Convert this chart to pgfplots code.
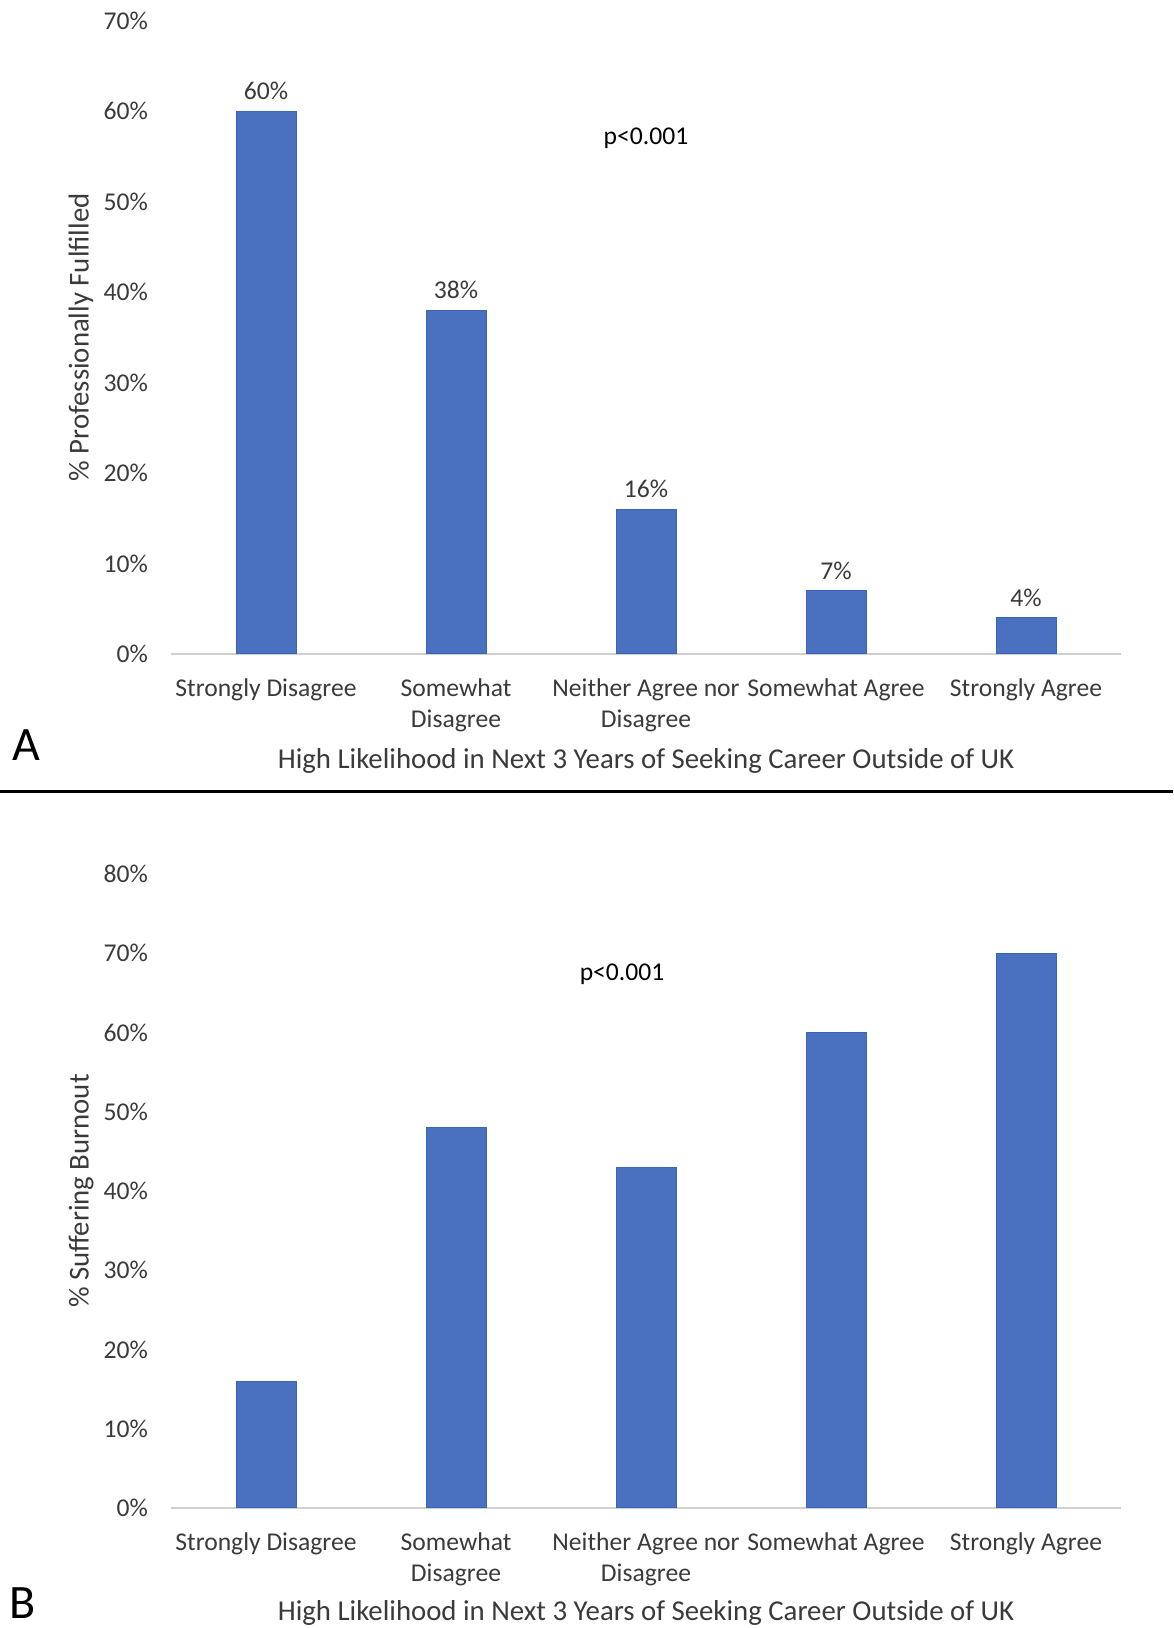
\documentclass[border=0pt]{standalone}
\usepackage{fontspec}
\setmainfont{Carlito}
\usepackage{pgfplots}
\pgfplotsset{compat=1.18}
\definecolor{barblue}{HTML}{4A71BF}
\definecolor{baredge}{HTML}{3B63B8}
\definecolor{txt}{HTML}{3A3A3A}
\definecolor{axgray}{HTML}{D0D0D0}
\pgfplotsset{
  panel/.style={
    scale only axis,
    width=475pt,
    xmin=-0.5, xmax=4.5,
    ymin=0,
    xtick={0,1,2,3,4},
    xticklabels={Strongly Disagree,{Somewhat\\Disagree},{Neither Agree nor\\Disagree},Somewhat Agree,Strongly Agree},
    separate axis lines,
    axis x line*=bottom,
    axis y line*=left,
    x axis line style={-,draw=axgray,line width=0.8pt},
    y axis line style={draw=none},
    major tick length=0pt,
    tick style={draw=none},
    /pgf/number format/assume math mode=true,
    yticklabel={\pgfmathprintnumber{\tick}\%},
    yticklabel style={font=\fontsize{12.8}{15.5}\selectfont, text=txt, anchor=east, xshift=-8pt},
    xticklabel style={font=\fontsize{12.8}{15.5}\selectfont, text=txt, align=center, anchor=north, yshift=-8.7pt},
    xlabel style={font=\fontsize{14.4}{17}\selectfont, text=txt, anchor=center},
    ylabel style={font=\fontsize{14.4}{17}\selectfont, text=txt, anchor=center, rotate=0},
    ybar, bar width=30pt,
  },
}
\begin{document}
\begin{tikzpicture}
\path[use as bounding box] (0,0) rectangle (586.5pt,814pt);
% Panel A
\begin{axis}[panel,
  at={(85.5pt,487pt)}, anchor=south west,
  height=316.6pt, ymax=70, ytick={0,10,...,70},
  xlabel={High Likelihood in Next 3 Years of Seeking Career Outside of UK},
  ylabel={\% Professionally Fulfilled},
  xlabel style={at={(axis description cs:0.5,-0.169)}},
  ylabel style={at={(axis description cs:-0.0947,0.5)}},
  nodes near coords={\pgfmathprintnumber{\pgfplotspointmeta}\%},
  every node near coord/.style={anchor=center, yshift=10pt, font=\fontsize{12.8}{15.5}\selectfont, text=txt},
]
\addplot[fill=barblue, draw=baredge, line width=0.5pt] coordinates {(0,60) (1,38) (2,16) (3,7) (4,4)};
\node[font=\fontsize{12.8}{15.5}\selectfont, text=black] at (axis cs:2,57.0) {p<0.001};
\end{axis}
% Panel B
\begin{axis}[panel,
  at={(85.5pt,60pt)}, anchor=south west,
  height=317pt, ymax=80, ytick={0,10,...,80},
  xlabel={High Likelihood in Next 3 Years of Seeking Career Outside of UK},
  ylabel={\% Suffering Burnout},
  xlabel style={at={(axis description cs:0.5,-0.166)}},
  ylabel style={at={(axis description cs:-0.0947,0.5)}},
]
\addplot[fill=barblue, draw=baredge, line width=0.5pt] coordinates {(0,16) (1,48) (2,43) (3,60) (4,70)};
\node[font=\fontsize{12.8}{15.5}\selectfont, text=black] at (axis cs:1.874,67.4) {p<0.001};
\end{axis}
\draw[black, line width=1.5pt] (0,418pt) -- (586.5pt,418pt);
\node[font=\fontsize{24}{28}\selectfont, text=black] at (13pt,441.5pt) {A};
\node[font=\fontsize{24}{28}\selectfont, text=black] at (11.5pt,12.5pt) {B};
\end{tikzpicture}
\end{document}
